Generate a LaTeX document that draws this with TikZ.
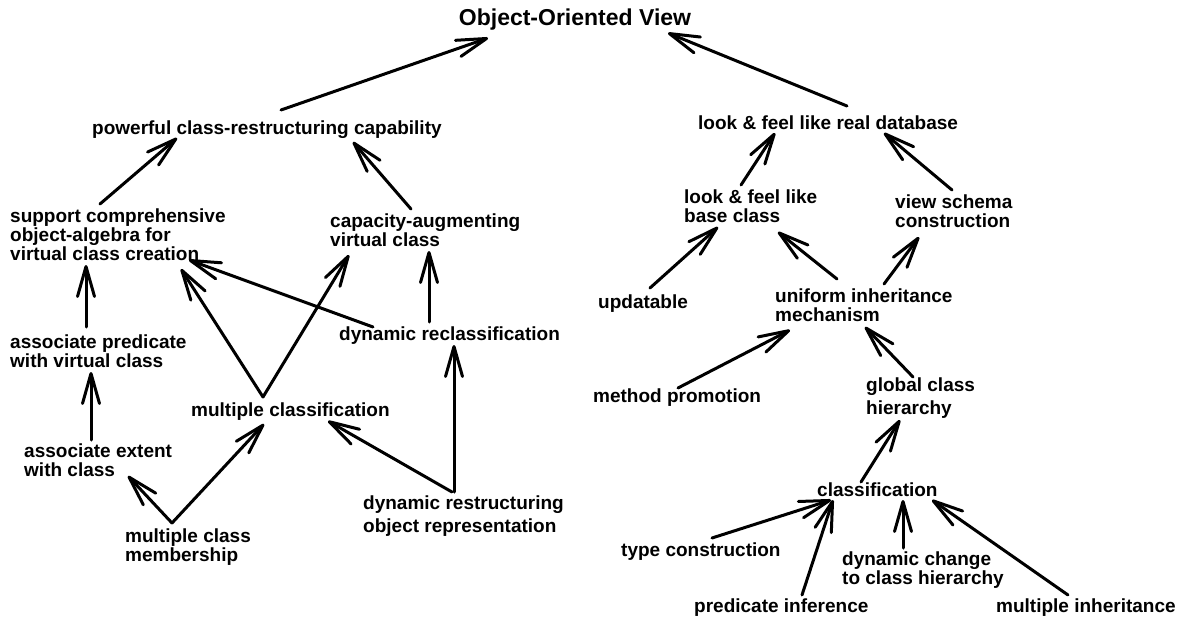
\documentclass[tikz,border=0pt]{standalone}
\usepackage{fontspec}
\setmainfont{Liberation Sans}
\usetikzlibrary{arrows.meta}

\tikzset{
  lbl/.style={inner sep=0pt, font=\bfseries\fontsize{19}{19}\selectfont, align=left},
  one/.style={lbl, anchor=base west},
  multi/.style={lbl, anchor=north west},
  arr/.style={line width=3pt, line cap=round, -{Straight Barb[length=30pt,width=17pt,round]}},
}

\begin{document}
\begin{tikzpicture}[x=1pt, y=-1pt]
\useasboundingbox (0,0) rectangle (1177,618);

% title
\node[inner sep=0pt, anchor=base, font=\bfseries\fontsize{23}{23}\selectfont] (title) at (575,26) {Object-Oriented View};

% left tree
\node[one] (pcr) at (92,134) {powerful class-restructuring capability};
\node[multi] (sup) at (10,209) {support comprehensive\\object-algebra for\\virtual class creation};
\node[multi] (cap) at (330,214) {capacity-augmenting\\virtual class};
\node[multi] (asp) at (10,335) {associate predicate\\with virtual class};
\node[one] (dynrc) at (339,340) {dynamic reclassification};
\node[one] (mcls) at (191,416) {multiple classification};
\node[multi] (ext) at (24,444) {associate extent\\with class};
\node[multi] (dro) at (363,496) {dynamic restructuring\\[4pt]object representation};
\node[multi] (mcm) at (125,529) {multiple class\\membership};

% right tree
\node[one] (lfdb) at (698,129) {look \& feel like real database};
\node[multi] (lfbc) at (684,190) {look \& feel like\\base class};
\node[multi] (vsc) at (895,195) {view schema\\construction};
\node[one] (upd) at (598,308) {updatable};
\node[multi] (uim) at (775,289) {uniform inheritance\\mechanism};
\node[one] (meth) at (593,402) {method promotion};
\node[multi] (gch) at (866,378) {global class\\[4pt]hierarchy};
\node[one] (cls) at (817,496) {classification};
\node[one] (typ) at (621,556) {type construction};
\node[multi] (dch) at (842,552) {dynamic change\\to class hierarchy};
\node[one] (pred) at (694,612) {predicate inference};
\node[one] (minh) at (996,612) {multiple inheritance};

% connectors, left tree
\draw[arr] ([shift={(189,-24)}]pcr.base west) -- ([shift={(-87,12)}]title.base);
\draw[arr] ([shift={(90,-5)}]sup.north west) -- ([shift={(85,4)}]pcr.base west);
\draw[arr] ([shift={(81,-5)}]cap.north west) -- ([shift={(261,8)}]pcr.base west);
\draw[arr] ([shift={(76,-8)}]asp.north west) -- ([shift={(76,56)}]sup.north west);
\draw[arr] ([shift={(90,-18)}]dynrc.base west) -- ([shift={(99,37)}]cap.north west);
\draw[arr] ([shift={(34,-13)}]dynrc.base west) -- ([shift={(179,51)}]sup.north west);
\draw[arr] ([shift={(72,-19)}]mcls.base west) -- ([shift={(171,60)}]sup.north west);
\draw[arr] ([shift={(72,-19)}]mcls.base west) -- ([shift={(19,41)}]cap.north west);
\draw[arr] ([shift={(67,-4)}]ext.north west) -- ([shift={(81,37)}]asp.north west);
\draw[arr] ([shift={(47,-6)}]mcm.north west) -- ([shift={(104,32)}]ext.north west);
\draw[arr] ([shift={(47,-6)}]mcm.north west) -- ([shift={(73,8)}]mcls.base west);
\draw[arr] ([shift={(91,-4)}]dro.north west) -- ([shift={(115,5)}]dynrc.base west);
\draw[arr] ([shift={(89,-4)}]dro.north west) -- ([shift={(137,5)}]mcls.base west);

% connectors, right tree
\draw[arr] ([shift={(149,-23)}]lfdb.base west) -- ([shift={(93,7)}]title.base);
\draw[arr] ([shift={(57,-5)}]lfbc.north west) -- ([shift={(77,4)}]lfdb.base west);
\draw[arr] ([shift={(57,-5)}]vsc.north west) -- ([shift={(186,4)}]lfdb.base west);
\draw[arr] ([shift={(52,-20)}]upd.base west) -- ([shift={(34,37)}]lfbc.north west);
\draw[arr] ([shift={(62,-10)}]uim.north west) -- ([shift={(94,42)}]lfbc.north west);
\draw[arr] ([shift={(109,-5)}]uim.north west) -- ([shift={(24,42)}]vsc.north west);
\draw[arr] ([shift={(85,-14)}]meth.base west) -- ([shift={(15,41)}]uim.north west);
\draw[arr] ([shift={(47,-1)}]gch.north west) -- ([shift={(90,38)}]uim.north west);
\draw[arr] ([shift={(44,-14)}]cls.base west) -- ([shift={(34,42)}]gch.north west);
\draw[arr] ([shift={(91,-18)}]typ.base west) -- ([shift={(14,4)}]cls.base west);
\draw[arr] ([shift={(108,-17)}]pred.base west) -- ([shift={(16,4)}]cls.base west);
\draw[arr] ([shift={(61,-4)}]dch.north west) -- ([shift={(86,4)}]cls.base west);
\draw[arr] ([shift={(72,-17)}]minh.base west) -- ([shift={(115,4)}]cls.base west);
\end{tikzpicture}
\end{document}
